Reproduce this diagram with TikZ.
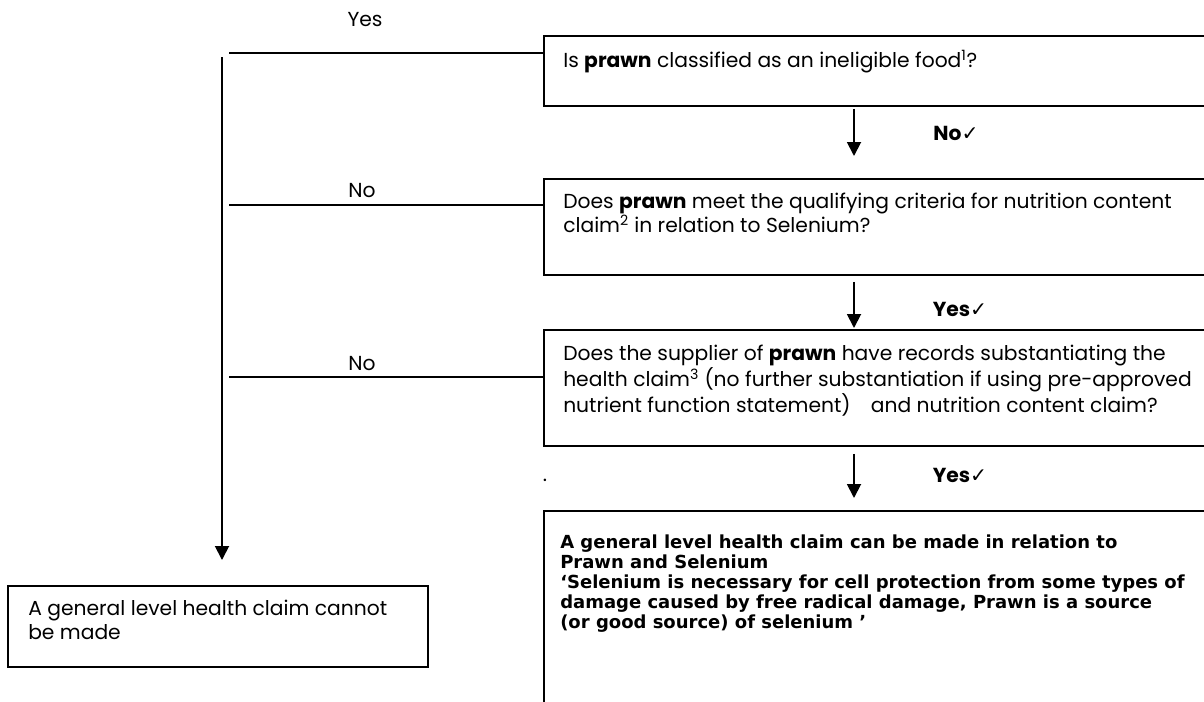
\documentclass[tikz,border=0pt]{standalone}
\usepackage{fontspec}
\setmainfont{Poppins}
\newfontfamily\boldbox{DejaVu Sans}
\newfontfamily\tickfont{DejaVu Sans}
\usetikzlibrary{arrows.meta,positioning}
\newdimen\px \px=0.75pt
\newcommand{\qfont}{\fontsize{15.2pt}{17.6pt}\selectfont}
\newcommand{\ok}{{\tickfont\mdseries ✓}}

\begin{document}
\begin{tikzpicture}[x=0.75pt,y=-0.75pt,
  qbox/.style={draw, line width=1.4pt, inner sep=0pt, anchor=north west},
  qtext/.style={anchor=north west, inner sep=0pt, align=left, font=\qfont},
  lab/.style={inner sep=0pt, font=\qfont},
  tick/.style={inner sep=0pt, font=\qfont\bfseries},
  flow/.style={line width=1.4pt, -{Triangle[width=10.5pt,length=10.5pt]}},
  branch/.style={line width=1.4pt}]
\useasboundingbox (0,0) rectangle (1204,701);

% question boxes on the right
\node[qbox, minimum width=667\px, minimum height=70\px] (q1) at (543,35) {};
\node[qtext] (q1t) at (563,50) {Is \textbf{prawn} classified as an ineligible food\textsuperscript{1}?};
\node[qbox, minimum width=667\px, minimum height=96\px] (q2) at (543,178) {};
\node[qtext] (q2t) at (563,193) {Does \textbf{prawn} meet the qualifying criteria for nutrition content\\
  claim\textsuperscript{2} in relation to Selenium?};
\node[qbox, minimum width=667\px, minimum height=116\px] (q3) at (543,329) {};
\node[qtext] (q3t) at (563,345) {Does the supplier of \textbf{prawn} have records substantiating the\\
  health claim\textsuperscript{3} (no further substantiation if using pre-approved\\
  nutrient function statement)\quad and nutrition content claim?};

% outcome boxes
\node[qbox, minimum width=667\px, minimum height=200\px] (y1) at (543,510) {};
\node[qtext, font=\boldbox\bfseries\fontsize{13.5pt}{15pt}\selectfont] (y1t) at (560,535)
  {A general level health claim can be made in relation to\\
   Prawn and Selenium\\
   ‘Selenium is necessary for cell protection from some types of\\
   damage caused by free radical damage, Prawn is a source\\
   (or good source) of selenium ’};
\node[qbox, minimum width=420\px, minimum height=81\px] (n1) at (7,585) {};
\node[qtext] (n1t) at (28,600) {A general level health claim cannot\\be made};

% downward flow
\draw[flow] ([xshift=311\px,yshift=-2\px]q1.south west) -- ([xshift=311\px,yshift=22\px]q2.north west);
\draw[flow] ([xshift=311\px,yshift=-6\px]q2.south west) -- ([xshift=311\px,yshift=1\px]q3.north west);
\draw[flow] ([xshift=311\px,yshift=-7\px]q3.south west) -- ([xshift=311\px,yshift=12\px]y1.north west);
\node[tick] (a1) at (956,133) {No\ok};
\node[tick] (a2) at (960,309) {Yes\ok};
\node[tick] (a3) at (960,475) {Yes\ok};
\node[lab] (dot) at (545,480) {.};

% branches to the left
\coordinate (j1) at (229,53);
\coordinate (j2) at (229,205);
\coordinate (j3) at (229,377);
\coordinate (v0) at (222,57);
\draw[branch] (j1) -- (j1 -| q1.west);
\draw[branch] (j2) -- (j2 -| q2.west);
\draw[branch] (j3) -- (j3 -| q3.west);
\node[lab] (b1) at (365,20) {Yes};
\node[lab] (b2) at (362,191) {No};
\node[lab] (b3) at (362,364) {No};
\draw[flow, shorten >=25\px] (v0) -- (v0 |- n1.north);
\end{tikzpicture}
\end{document}
